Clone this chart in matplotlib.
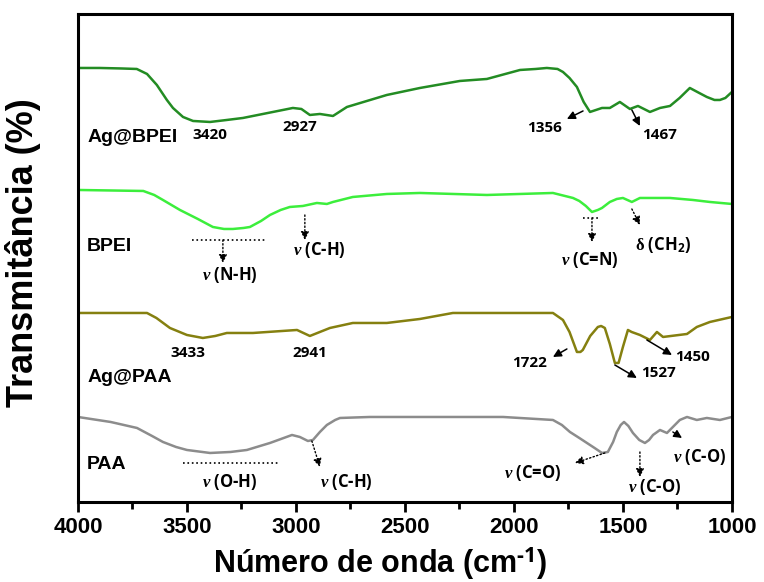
import matplotlib
matplotlib.use("Agg")
import matplotlib.pyplot as plt
from matplotlib.ticker import MultipleLocator

# FTIR spectra (arbitrary transmittance units, offset stacked)
wn_agbpei = [4000, 3900, 3800, 3730, 3683, 3638, 3592, 3564, 3518, 3472, 3394, 3317, 3243, 3014,
             2975, 2936, 2890, 2830, 2766, 2583, 2431, 2248, 2124, 1972, 1900, 1849, 1800, 1775,
             1745, 1711, 1680, 1651, 1596, 1560, 1514, 1468, 1431, 1376, 1330, 1284, 1240, 1193,
             1150, 1115, 1080, 1055, 1030, 1000]
t_agbpei = [434, 434, 433.5, 433, 428, 417, 402, 394, 385, 381, 380, 382, 384, 394,
            393, 387, 388, 386, 395, 407, 414, 421, 423, 432, 433, 434, 433, 430,
            424, 415, 400, 390, 394, 394, 400, 393, 396, 390, 394, 396, 404, 414,
            409, 405, 402, 402, 404, 410]

wn_bpei = [4000, 3700, 3650, 3610, 3532, 3450, 3381, 3330, 3289, 3240, 3211, 3160, 3119, 3070,
           3028, 2968, 2904, 2858, 2830, 2739, 2583, 2431, 2124, 1821, 1729, 1700, 1670, 1642,
           1615, 1596, 1560, 1528, 1500, 1459, 1422, 1284, 1179, 1101, 1000]
t_bpei = [312, 311, 307, 302, 292, 283, 275, 273, 273, 274, 275, 281, 287, 292,
          295, 296, 299, 298, 300, 305, 308, 309, 307, 309, 304, 301, 296, 290,
          292, 294, 300, 303, 304, 300, 304, 304, 302, 300, 298]

wn_agpaa = [4000, 3683, 3640, 3578, 3500, 3427, 3370, 3317, 3197, 2995, 2936, 2844, 2739, 2583,
            2431, 2280, 1821, 1775, 1745, 1711, 1695, 1684, 1650, 1615, 1600, 1583, 1560, 1537,
            1520, 1500, 1477, 1460, 1422, 1376, 1344, 1316, 1206, 1161, 1101, 1000]
t_agpaa = [189, 189, 184, 174, 167, 164, 166, 169, 169, 172, 166, 174, 179, 179,
           183, 189, 189, 182, 170, 150, 150, 152, 166, 175, 176, 174, 158, 139,
           139, 155, 172, 170, 167, 162, 170, 165, 168, 175, 180, 185]

wn_paa = [4000, 3850, 3729, 3660, 3610, 3550, 3500, 3394, 3300, 3225, 3119, 3018, 2982, 2945,
          2922, 2890, 2858, 2820, 2798, 2661, 2431, 2050, 1821, 1780, 1743, 1700, 1665, 1630,
          1596, 1569, 1545, 1528, 1510, 1495, 1475, 1454, 1425, 1399, 1380, 1362, 1330, 1298,
          1239, 1206, 1161, 1115, 1055, 1000]
t_paa = [85, 80, 74, 66, 60, 55, 52, 49, 50, 52, 59, 67, 65, 61,
         62, 70, 77, 82, 84, 85, 85, 85, 82, 77, 70, 64, 59, 54,
         49, 50, 60, 70, 77, 80, 76, 69, 62, 59, 62, 67, 72, 69,
         82, 85, 82, 84, 82, 85]

names = ["Ag@BPEI", "BPEI", "Ag@PAA", "PAA"]
label_y = [364, 255, 124, 37]
colors = ["#238c23", "#3cee3c", "#858010", "#8c8c8c"]

# peak position labels: text, x, y, arrow (tail, head) or None
peak_labels = [
    ("3420", 3394, 367, None),
    ("2927", 2982, 375, None),
    ("1356", 1858, 374, ((1683, 391), (1757, 383))),
    ("1467", 1330, 367, ((1459, 392), (1422, 376))),
    ("3433", 3495, 149, None),
    ("2941", 2936, 149, None),
    ("1722", 1927, 139, ((1757, 153), (1821, 145))),
    ("1527", 1335, 129, ((1537, 137), (1436, 124))),
    ("1450", 1179, 145, ((1390, 162), (1275, 147))),
]

# vibration mode labels: text, x, y, arrow (tail, head), solid?
mode_labels = [
    (r"$\nu$ (N-H)", 3303, 227, ((3335, 262), (3335, 239)), False),
    (r"$\nu$ (C-H)", 2890, 252, ((2959, 287), (2959, 262)), False),
    (r"$\nu$ (C=N)", 1651, 242, ((1642, 284), (1642, 260)), False),
    (r"$\mathbf{\delta}$ (CH$_2$)", 1317, 257, ((1459, 293), (1422, 277)), False),
    (r"$\nu$ (O-H)", 3303, 20, None, False),
    (r"$\nu$ (C-H)", 2766, 20, ((2927, 61), (2890, 35)), False),
    (r"$\nu$ (C=O)", 1913, 29, ((1583, 49), (1720, 39)), False),
    (r"$\nu$ (C-O)", 1353, 15, ((1422, 50), (1422, 25)), False),
    (r"$\nu$ (C-O)", 1147, 45, ((1271, 70), (1229, 64)), True),
]

# dotted range bars: x start, x end, y
range_bars = [(3477, 3142, 262), (1683, 1615, 284), (3518, 3073, 39)]

plt.rcParams['mathtext.fontset'] = 'custom'
plt.rcParams['mathtext.it'] = 'Liberation Serif:italic:bold'
plt.rcParams['mathtext.bf'] = 'Liberation Serif:bold'
plt.rcParams['mathtext.rm'] = 'Open Sans:bold'

fig = plt.figure(figsize=(7.64, 5.82), dpi=100)
ax = fig.add_axes([0.102, 0.1375, 0.856, 0.8385])

series = [(wn_agbpei, t_agbpei), (wn_bpei, t_bpei), (wn_agpaa, t_agpaa), (wn_paa, t_paa)]
for (x, y), c in zip(series, colors):
    ax.plot(x, y, color=c, lw=1.8, solid_joinstyle='round')

for name, yl in zip(names, label_y):
    ax.text(3958, yl, name, fontsize=14, family='Liberation Sans', weight='bold',
            va='center', ha='left')

for txt, x, y, arr in peak_labels:
    ax.text(x, y, txt, fontsize=11, family='Open Sans', weight='bold', ha='center', va='center')
    if arr:
        ax.annotate('', xy=arr[1], xytext=arr[0],
                    arrowprops=dict(arrowstyle='-|>', color='k', lw=1.1, mutation_scale=12,
                                    shrinkA=0, shrinkB=0))

for txt, x, y, arr, solid in mode_labels:
    ax.text(x, y, txt, fontsize=12, family='Open Sans', weight='bold', ha='center', va='center')
    if arr:
        ax.annotate('', xy=arr[1], xytext=arr[0],
                    arrowprops=dict(arrowstyle='-|>', color='k', lw=1.0, mutation_scale=12,
                                    linestyle='-' if solid else ':', shrinkA=0, shrinkB=0))

for x0, x1, yb in range_bars:
    ax.plot([x0, x1], [yb, yb], color='k', lw=1.2, linestyle=':')

ax.set_xlim(4000, 1000)
ax.set_ylim(0, 488)
ax.set_yticks([])
ax.xaxis.set_major_locator(MultipleLocator(500))
ax.xaxis.set_minor_locator(MultipleLocator(250))
ax.tick_params(axis='x', which='major', direction='out', length=7, width=2, pad=4)
ax.tick_params(axis='x', which='minor', direction='out', length=5, width=2)
for sp in ax.spines.values():
    sp.set_linewidth(2.2)
for lab in ax.get_xticklabels():
    lab.set_family('Liberation Sans')
    lab.set_weight('bold')
    lab.set_fontsize(16)

ax.set_xlabel(r'Número de onda (cm$^{\text{-1}}$)', fontsize=22, family='Liberation Sans',
              weight='bold')
ax.xaxis.set_label_coords(0.462, -0.088)
ax.set_ylabel('Transmitância (%)', fontsize=26, family='Liberation Sans', weight='bold')
ax.yaxis.set_label_coords(-0.056, 0.51)

fig.savefig('out.png', dpi=100)
